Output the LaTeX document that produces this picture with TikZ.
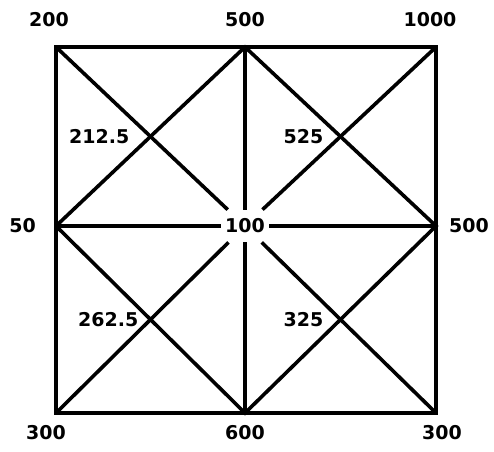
\documentclass[tikz,border=0pt]{standalone}
\usepackage{fontspec}
\setmainfont{DejaVu Sans}
\usetikzlibrary{positioning,calc}

\begin{document}
\begin{tikzpicture}[x=1pt, y=-1pt,
          bar/.style={line width=3.6pt},
          val/.style={font=\bfseries\fontsize{19}{21}\selectfont, inner sep=2pt}]
        \useasboundingbox (0,0) rectangle (494,451);
        \coordinate (tl) at (56,47);
        \coordinate (tm) at (245,47);
        \coordinate (tr) at (436,47);
        \coordinate (ml) at (56,226);
        \node[val, inner xsep=4pt, inner ysep=9pt] (mm) at (245,226) {100};
        \coordinate (mr) at (436,226);
        \coordinate (bl) at (56,413);
        \coordinate (bm) at (245,413);
        \coordinate (br) at (436,413);
        \draw[bar, line width=4.2pt] (tl) -- (tm) -- (tr) -- (mr) -- (br) -- (bm) -- (bl) -- (ml) -- cycle;
        \draw[bar] (tm) -- (mm) -- (bm);
        \draw[bar] (ml) -- (mm) -- (mr);
        \foreach \c in {tl,tr,bl,br} \draw[bar] (\c) -- (mm);
        \draw[bar] (ml) -- (tm) -- (mr) -- (bm) -- (ml);
        \coordinate (q1) at ($(tl)!.5!(mm.center)$);
        \coordinate (q2) at ($(tr)!.5!(mm.center)$);
        \coordinate (q3) at ($(bl)!.5!(mm.center)$);
        \coordinate (q4) at ($(br)!.5!(mm.center)$);
        \node[val, left=19pt of q1] (v1) {212.5};
        \node[val, left=15pt of q2] (v2) {525};
        \node[val, left=10pt of q3] (v3) {262.5};
        \node[val, left=15pt of q4] (v4) {325};
        \node[val, above=18pt of tl, xshift=-7pt] (ltl) {200};
        \node[val, above=18pt of tm] (ltm) {500};
        \node[val, above=18pt of tr, xshift=-6pt] (ltr) {1000};
        \node[val, left=18pt of ml] (lml) {50};
        \node[val, right=11pt of mr] (lmr) {500};
        \node[val, below=10pt of bl, xshift=-10pt] (lbl) {300};
        \node[val, below=10pt of bm] (lbm) {600};
        \node[val, below=10pt of br, xshift=6pt] (lbr) {300};
      \end{tikzpicture}
\end{document}
